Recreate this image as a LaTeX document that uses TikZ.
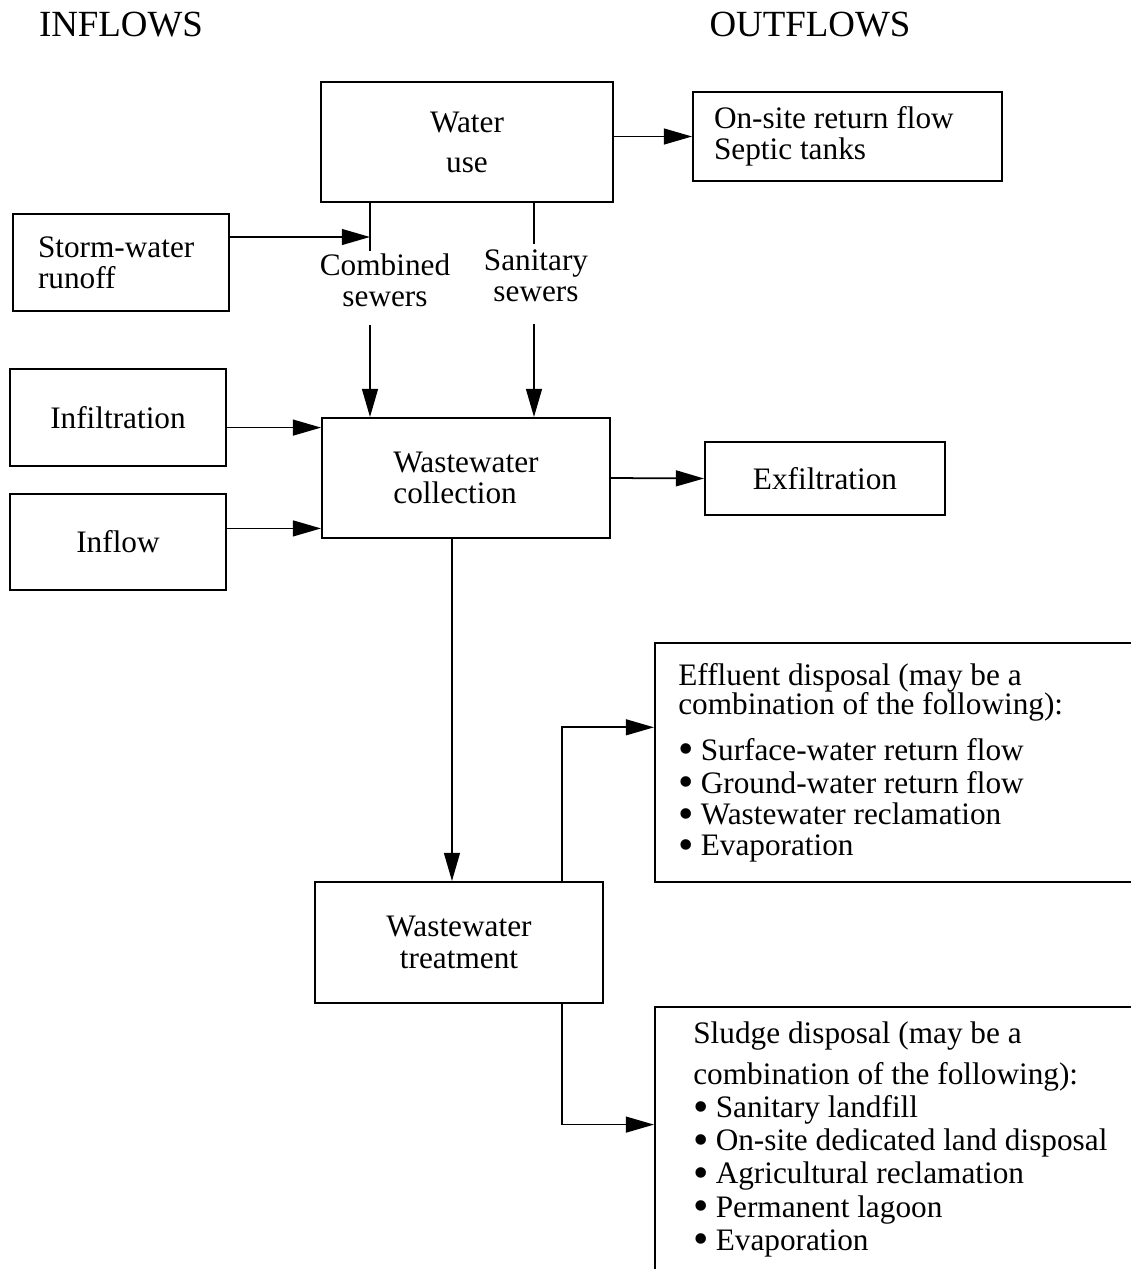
\documentclass[tikz,border=0pt]{standalone}
\usepackage{fontspec}
\setmainfont{Liberation Serif}
\usetikzlibrary{arrows.meta, positioning}
\newcommand{\blt}{\smash{\raisebox{-2pt}{\fontsize{25pt}{0pt}\selectfont\textbullet}}\hspace{4pt}}

\begin{document}
\begin{tikzpicture}[
  x=0.02cm, y=-0.02cm,
  box/.style={
    draw=black,
    line width=1.1pt,
    rectangle,
    align=center,
    font=\fontsize{17.8pt}{17.8pt}\selectfont
  },
  listbox/.style={draw=black, line width=1.1pt, rectangle, anchor=north west, minimum width=10cm},
  listtxt/.style={align=left, inner sep=0pt, anchor=north west, font=\fontsize{17.8pt}{17.8pt}\selectfont},
  lbl/.style={align=center, inner sep=0pt, font=\fontsize{17.8pt}{17.8pt}\selectfont},
  head/.style={font=\fontsize{21pt}{21pt}\selectfont},
  line/.style={line width=1pt},
  arrow/.style={-{Triangle[length=16pt, width=9pt]}, line width=1pt}
]
\clip (0,0) rectangle (1131,1269);

% headings
\node[head] (inhead) at (121,25) {INFLOWS};
\node[head] (outhead) at (810,25) {OUTFLOWS};

% top row
\node[box, minimum width=5.84cm, minimum height=2.4cm] (wateruse) at (467,142) {Water\\[5pt]use};
\node[box, align=flush left, text width=5.34cm, inner xsep=0.42cm, minimum height=1.78cm] (onsite) at (847.5,136.5)
  {On-site return flow\\Septic tanks};
\node[box, align=flush left, text width=3.32cm, inner xsep=0.5cm, minimum height=1.94cm] (storm) at (121,262.5)
  {Storm-water\\runoff};

% sewer labels
\node[lbl] (cmblbl) at (385,280) {Combined\\sewers};
\node[lbl] (sanlbl) at (536,276) {Sanitary\\sewers};
\coordinate (cmbx) at (370,0);
\coordinate (sanx) at (534,0);
\coordinate (cmbjoin) at (370,237);

% collection row
\node[box, minimum width=4.32cm, minimum height=1.94cm] (infil) at (118,417.5) {Infiltration};
\node[box, minimum width=4.32cm, minimum height=1.92cm] (inflow) at (118,542) {Inflow};
\node[box, align=left, minimum width=5.76cm, minimum height=2.4cm] (collect) at (466,478)
  {Wastewater\\collection};
\node[box, minimum width=4.8cm, minimum height=1.46cm] (exfil) at (825,478.5) {Exfiltration};

% treatment and disposal
\node[box, minimum width=5.76cm, minimum height=2.42cm] (treat) at (459,942.5)
  {Wastewater\\treatment};
\node[listbox, minimum height=4.78cm] (effluent) at (654,642) {};
\node[listtxt] (efftxt) at (678,663)
  {Effluent disposal (may be a\\[-1pt]
   combination of the following):\\[8pt]
   \blt Surface-water return flow\\[1pt]
   \blt Ground-water return flow\\
   \blt Wastewater reclamation\\
   \blt Evaporation};
\node[listbox, minimum height=6cm] (sludge) at (654,1006) {};
\node[listtxt] (sludgetxt) at (693,1021)
  {Sludge disposal (may be a\\[6pt]
   combination of the following):\\[1pt]
   \blt Sanitary landfill\\[1pt]
   \blt On-site dedicated land disposal\\[1pt]
   \blt Agricultural reclamation\\[1pt]
   \blt Permanent lagoon\\[1pt]
   \blt Evaporation};

% connectors
\draw[arrow] (wateruse.east |- onsite.west) -- (onsite.west);
\draw[arrow] (storm.east |- cmbjoin) -- (cmbjoin);
\draw[line] (wateruse.south -| cmbx) -- ([yshift=1pt]cmbx |- cmblbl.north);
\draw[line] (wateruse.south -| sanx) -- ([yshift=3pt]sanx |- sanlbl.north);
\draw[arrow] ([yshift=-10pt]cmbx |- cmblbl.south) -- (cmbx |- collect.north);
\draw[arrow] ([yshift=-12pt]sanx |- sanlbl.south) -- (sanx |- collect.north);
\draw[arrow] ([yshift=-6pt]collect.north west -| infil.east) -- ([yshift=-6pt]collect.north west);
\draw[arrow] ([yshift=6pt]collect.south west -| inflow.east) -- ([yshift=6pt]collect.south west);
\draw[arrow] (collect.east) -- (exfil.west);
\draw[arrow] ([xshift=-4pt]collect.south -| treat.north) -- ([xshift=-4pt]treat.north);
\draw[arrow] ([xshift=-24pt]treat.north east) |- ([yshift=20pt]effluent.west);
\draw[arrow] ([xshift=-24pt]treat.south east) |- ([yshift=-67.5pt]sludge.north west);

\end{tikzpicture}
\end{document}
